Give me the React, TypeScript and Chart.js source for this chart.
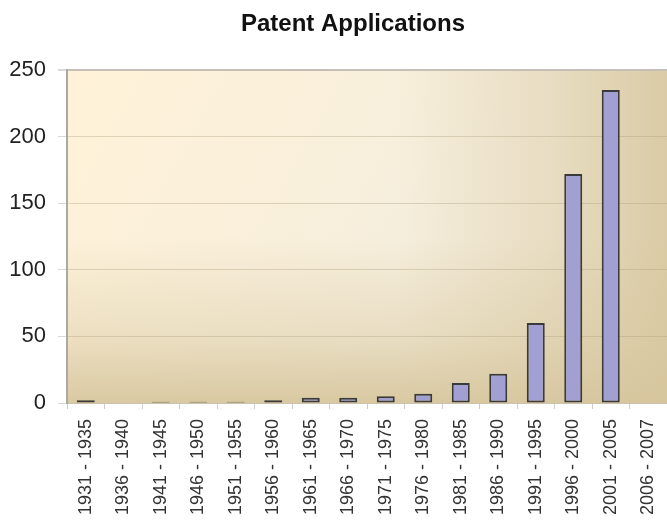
import React, { useEffect, useRef } from "react";
import { Chart, registerables } from "chart.js";

Chart.register(...registerables);

const categories = [
  "1931 - 1935", "1936 - 1940", "1941 - 1945", "1946 - 1950",
  "1951 - 1955", "1956 - 1960", "1961 - 1965", "1966 - 1970",
  "1971 - 1975", "1976 - 1980", "1981 - 1985", "1986 - 1990",
  "1991 - 1995", "1996 - 2000", "2001 - 2005", "2006 - 2007",
];
const applications = [2, 0, 1, 1, 1, 2, 4, 4, 5, 7, 15, 22, 60, 172, 235, 0];
const yMin = 0;
const yMax = 250;
const yStep = 50;
const titleText = "Patent Applications";

const TAN = "214,197,156";

const plotBackground = {
  id: "plotBackground",
  beforeDraw(chart: any) {
    const { ctx, chartArea } = chart;
    if (!chartArea) return;
    const { left, top, right, bottom } = chartArea;
    const w = right - left;
    const h = bottom - top;
    ctx.save();
    const base = ctx.createLinearGradient(left, top, left + w * 0.6, top + h * 0.6);
    base.addColorStop(0, "#fff2d8");
    base.addColorStop(1, "#f5eedd");
    ctx.fillStyle = base;
    ctx.fillRect(left, top, w, h);
    const hg = ctx.createLinearGradient(left, 0, right, 0);
    hg.addColorStop(0, `rgba(${TAN},0)`);
    hg.addColorStop(0.55, `rgba(${TAN},0)`);
    hg.addColorStop(0.8, `rgba(${TAN},0.4)`);
    hg.addColorStop(1, `rgba(${TAN},0.85)`);
    ctx.fillStyle = hg;
    ctx.fillRect(left, top, w, h);
    const vg = ctx.createLinearGradient(0, top, 0, bottom);
    vg.addColorStop(0, `rgba(${TAN},0)`);
    vg.addColorStop(0.5, `rgba(${TAN},0)`);
    vg.addColorStop(0.8, `rgba(${TAN},0.4)`);
    vg.addColorStop(1, `rgba(${TAN},0.9)`);
    ctx.fillStyle = vg;
    ctx.fillRect(left, top, w, h);
    ctx.restore();
  },
};

const titleShift = {
  id: "titleShift",
  afterLayout(chart: any) {
    const tb = chart.titleBlock;
    if (!tb) return;
    tb.left += 15;
    tb.right += 15;
  },
};

export default function App() {
  const ref = useRef<HTMLCanvasElement | null>(null);

  useEffect(() => {
    if (!ref.current) return;
    Chart.defaults.font.family = "'Liberation Sans', Arial, sans-serif";
    const chart = new Chart(ref.current, {
      type: "bar",
      data: {
        labels: categories,
        datasets: [
          {
            label: "Patent Applications",
            data: applications,
            backgroundColor: "#a29fd2",
            borderColor: "#3a3a3a",
            borderWidth: 2,
            borderSkipped: false,
            barPercentage: 0.48,
            categoryPercentage: 1,
          },
        ],
      },
      options: {
        animation: false,
        responsive: false,
        devicePixelRatio: 1,
        layout: { padding: { left: 9, right: 0, top: 0, bottom: 0 } },
        plugins: {
          legend: { display: false },
          tooltip: { enabled: false },
          title: {
            display: true,
            text: titleText,
            color: "#111",
            font: { size: 24, weight: "bold" },
            padding: { top: 9.6, bottom: 31.6 },
          },
        },
        scales: {
          x: {
            grid: {
              display: true,
              drawOnChartArea: false,
              drawTicks: true,
              tickLength: 6,
              tickColor: "#cfcfcf",
              offset: true,
            },
            border: { display: true, color: "#cbc3ad", width: 1 },
            ticks: {
              minRotation: 90,
              maxRotation: 90,
              autoSkip: false,
              padding: 10,
              color: "#333",
              font: { size: 18 },
            },
            afterFit(scale: any) {
              scale.height = 137;
              scale.paddingRight = 0;
              scale.paddingLeft = 0;
            },
          },
          y: {
            min: yMin,
            max: yMax,
            grid: {
              color: (c: any) =>
                c.tick && c.tick.value === yMax
                  ? "#c4c0b8"
                  : c.tick && c.tick.value === 0
                  ? "#cfc6ad"
                  : "rgba(170,155,120,0.35)",
              lineWidth: (c: any) => (c.tick && c.tick.value === yMax ? 2 : 1),
              drawTicks: true,
              tickLength: 9,
              tickColor: "#d8d8d8",
            },
            border: { display: true, color: "#a9a9a9", width: 2 },
            ticks: {
              stepSize: yStep,
              padding: 12,
              color: "#222",
              font: { size: 22 },
            },
            afterFit(scale: any) {
              scale.width = 58;
            },
          },
        },
      },
      plugins: [plotBackground, titleShift],
    });
    return () => chart.destroy();
  }, []);

  return (
    <div
      style={{
        position: "fixed",
        left: 0,
        top: 0,
        width: 667,
        height: 523,
        overflow: "hidden",
        background: "#fff",
      }}
    >
      <canvas ref={ref} width={667} height={540} style={{ display: "block" }} />
    </div>
  );
}
